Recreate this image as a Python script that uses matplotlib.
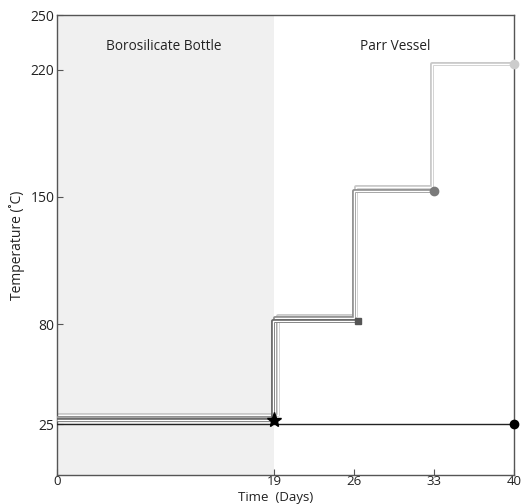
import matplotlib
matplotlib.use("Agg")
import matplotlib.pyplot as plt

plt.rcParams['font.family'] = ['Open Sans', 'DejaVu Sans']

# Data (small offsets separate overlapping steps)
x_rt = [0, 40]
y_rt = [25, 25]

x_80 = [0, 18.9, 18.9, 26.3]
y_80 = [27, 27, 82, 82]

x_150 = [0, 19.1, 19.1, 26.0, 26.0, 33.0]
y_150 = [28.5, 28.5, 83.5, 83.5, 153.5, 153.5]

x_220 = [0, 19.3, 19.3, 26.2, 26.2, 32.8, 32.8, 40]
y_220 = [30, 30, 84.5, 84.5, 155.5, 155.5, 223, 223]

star_x, star_y = 19, 27

xticks = [0, 19, 26, 33, 40]
yticks = [25, 80, 150, 220, 250]
regions = ["Borosilicate Bottle", "Parr Vessel"]

fig = plt.figure(figsize=(5.24, 5.04), dpi=100)
ax = fig.add_axes([0.109, 0.0575, 0.872, 0.9125])

ax.axvspan(0, 19, color='#f0f0f0', lw=0, zorder=0)

def dline(x, y, col, z):
    ax.plot(x, y, color=col, lw=2.8, zorder=z, solid_capstyle='butt')
    ax.plot(x, y, color='white', lw=1.0, zorder=z + 0.1, solid_capstyle='butt')

dline(x_220, y_220, '#c8c8c8', 2)
dline(x_150, y_150, '#8f8f8f', 3)
dline(x_80, y_80, '#666666', 4)

ax.plot(x_rt, y_rt, color='#222222', lw=1.0, zorder=5)
ax.plot(x_rt[-1], y_rt[-1], 'o', color='black', ms=6, zorder=6, clip_on=False)
ax.plot(x_80[-1], y_80[-1], 's', color='#555555', ms=5, zorder=6)
ax.plot(x_150[-1], y_150[-1], 'o', color='#7a7a7a', ms=6, zorder=6)
ax.plot(x_220[-1], y_220[-1], 'o', color='#cccccc', ms=6, zorder=6, clip_on=False)
ax.plot(star_x, star_y, '*', color='black', ms=11, zorder=7)

ax.text(9.3, 233, regions[0], ha='center', va='center', fontsize=9.8, color='#222222')
ax.text(29.6, 233, regions[1], ha='center', va='center', fontsize=9.8, color='#222222')

ax.set_xlim(0, 40)
ax.set_ylim(-3, 250)
ax.set_xticks(xticks)
ax.set_yticks(yticks)
ax.tick_params(direction='in', length=4, width=0.8, colors='#555555',
               labelcolor='#222222', labelsize=10, pad=2)
ax.tick_params(axis='x', pad=0.3, labelsize=9.5)
for s in ax.spines.values():
    s.set_color('#555555')
    s.set_linewidth(1.0)

ax.set_xlabel('Time  (Days)', fontsize=9.5, color='#222222', va='center')
ax.xaxis.set_label_coords(0.478, -0.0495)
ax.set_ylabel('Temperature (˚C)', fontsize=10, color='#222222', labelpad=4)

fig.savefig('out.png', dpi=100, facecolor='white')
